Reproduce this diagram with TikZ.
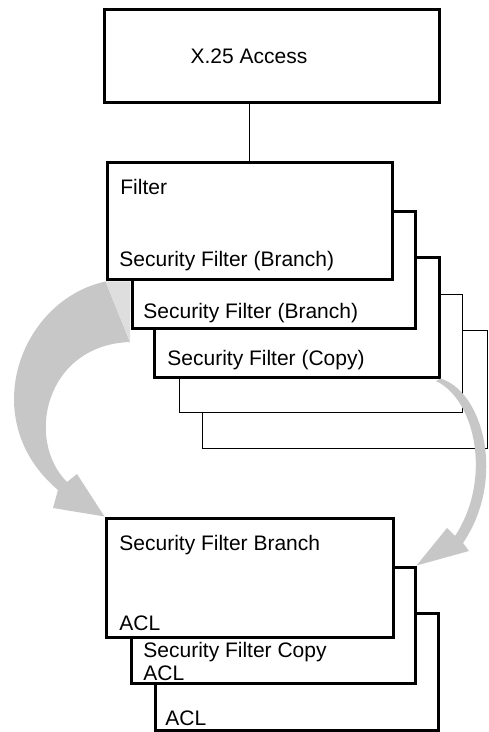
\documentclass[tikz,border=0pt]{standalone}
\usepackage{fontspec}
\setmainfont{Liberation Sans}
\usetikzlibrary{fit}
\colorlet{arrowGray}{black!22}
\colorlet{wedgeGray}{black!13}
\tikzset{
  bigbox/.style = {draw, line width = 1.5pt, fill = white, inner sep = 0pt},
  thinbox/.style = {draw, line width = 0.5pt, fill = white, inner sep = 0pt},
  lbl/.style = {anchor = base west, inner sep = 0pt, font = \fontsize{10.5}{12}\selectfont},
}

\begin{document}
\begin{tikzpicture}[x = 0.5pt, y = -0.5pt]
		\useasboundingbox (0, 0) rectangle (488, 732);
		%%%%%%%%%%%%% upper stack, back to front
		\node[thinbox, fit = {(202, 330) (487, 448)}] (sf5) {};
		\node[thinbox, fit = {(179, 295) (462, 412)}] (sf4) {};
		\node[bigbox, fit = {(154, 258) (439, 377)}] (sf3) {};
		\node[bigbox, fit = {(132, 212) (415, 328)}] (sf2) {};
		\node[bigbox, fit = {(107, 163) (392, 280)}] (filt) {};
		\node[bigbox, fit = {(104, 10) (439, 103)}] (access) {};
		%%%%%%%%%%%%% lower stack
		\node[bigbox, fit = {(155, 613) (438, 730)}] (acl3) {};
		\node[bigbox, fit = {(131, 567) (415, 683)}] (sbc) {};
		\node[bigbox, fit = {(106, 518) (393, 637)}] (sfb) {};
		%%%%%%%%%%%%% texts
		\node[lbl, anchor = base] (tx25) at (249, 64) {X.25 Access};
		\node[lbl] (tfilt) at (120, 195) {Filter};
		\node[lbl] (tbr1) at (119, 267) {Security Filter (Branch)};
		\node[lbl] (tbr2) at (143, 318) {Security Filter (Branch)};
		\node[lbl] (tcopy) at (167, 365) {Security Filter (Copy)};
		\node[lbl] (tsfb) at (119, 550) {Security Filter Branch};
		\node[lbl] (tacl1) at (119, 630) {ACL};
		\node[lbl] (tsfc) at (143, 657) {Security Filter Copy};
		\node[lbl] (tacl2) at (143, 680) {ACL};
		\node[lbl] (tacl3) at (165, 725) {ACL};
		%%%%%%%%%%%%%
		\draw[line width = 0.5pt] (filt.north |- access.south) -- (filt.north);
		%%%%%%%%%%%%%%%%%%%%%% gray arrows
		\fill[arrowGray] (filt.south west) .. controls (20, 300) and (-25, 420) .. (58, 490)
			-- (53, 508) -- (sfb.north west) -- (77, 474) -- (67, 482)
			.. controls (25, 440) and (45, 345) .. (130, 342) -- cycle;
		\fill[wedgeGray] (filt.south west) -- (130, 342) -- (sf2.west |- filt.south) -- cycle;
		\fill[arrowGray] (sf3.south east) .. controls (484, 392) and (506, 480) .. (463, 543)
			-- (469, 551) -- (sbc.north east) -- (447, 528) -- (455, 536)
			.. controls (492, 480) and (476, 400) .. (436, 381) -- cycle;
\end{tikzpicture}
\end{document}
